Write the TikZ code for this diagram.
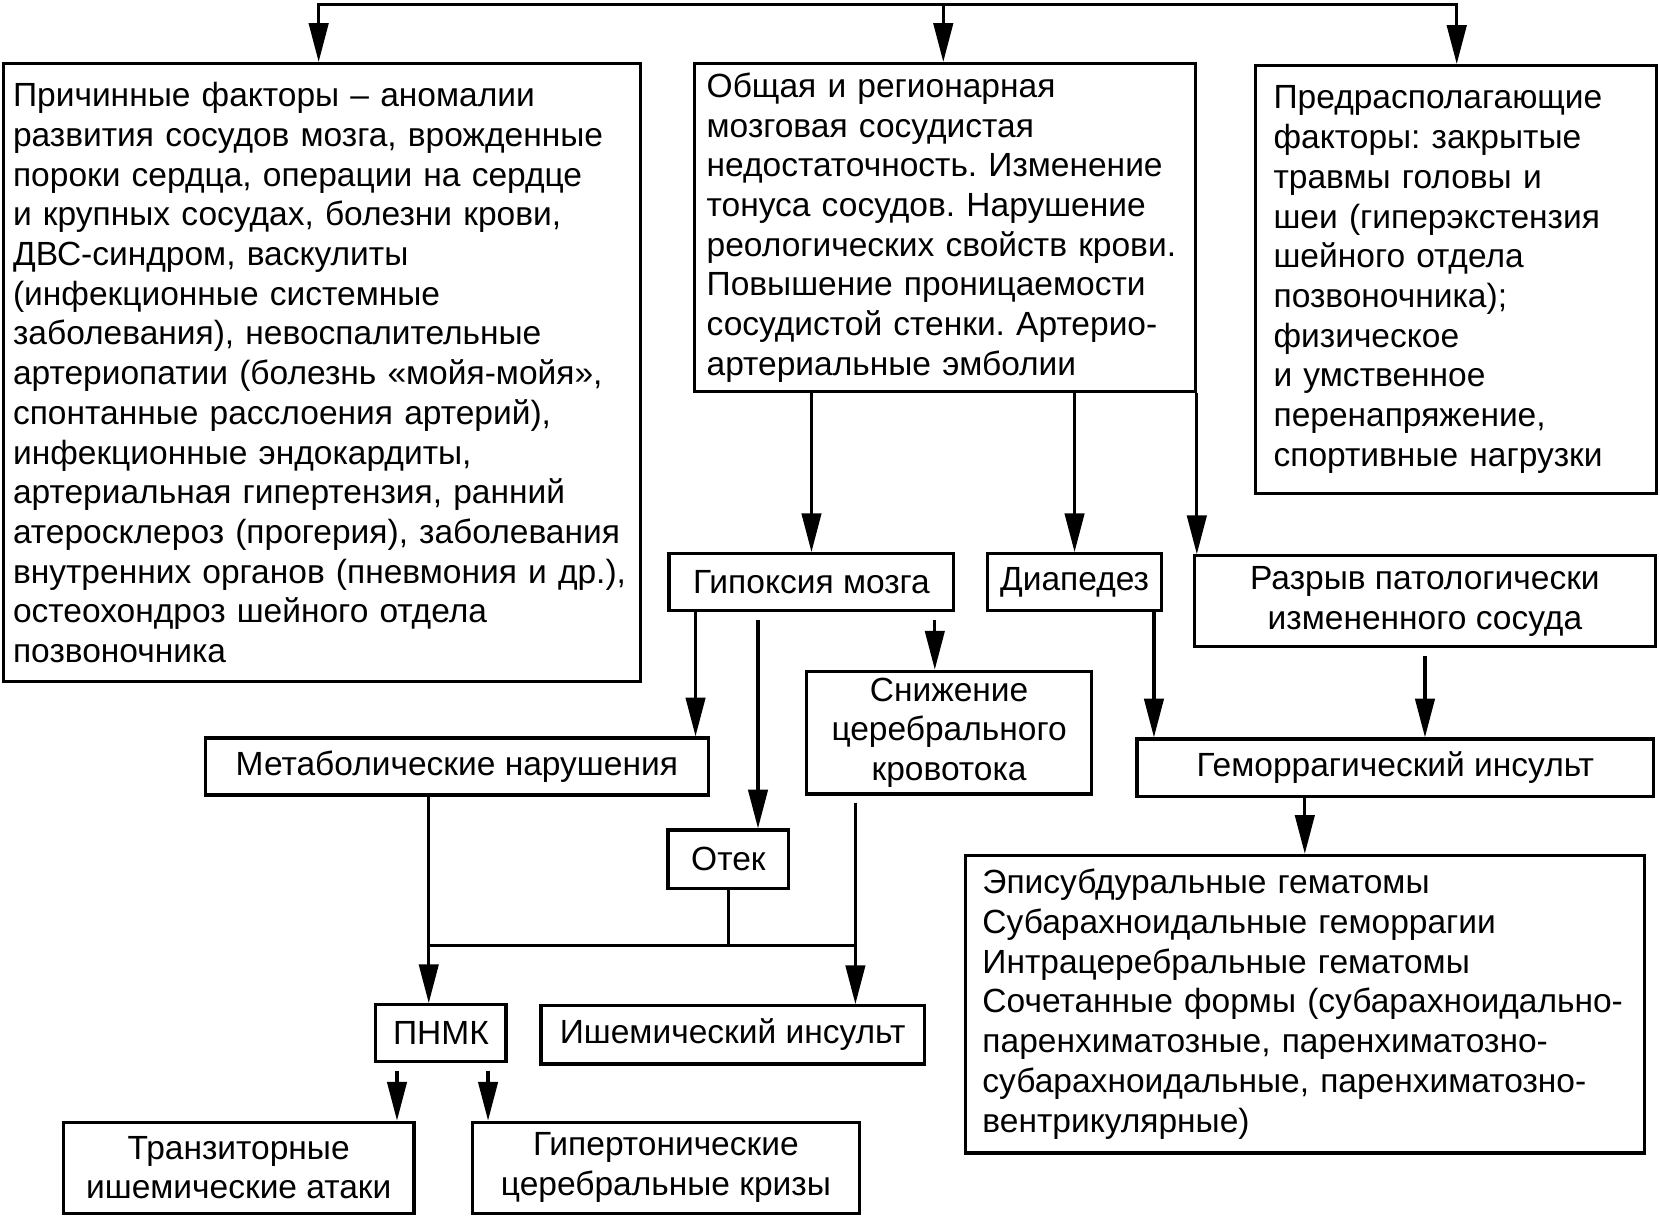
\documentclass[tikz,border=0pt]{standalone}
\usepackage{fontspec}
\setmainfont{Liberation Sans}
\usetikzlibrary{arrows.meta}
\frenchspacing

\begin{document}
\begin{tikzpicture}[x=0.3pt, y=-0.3pt, line width=0.9pt,
        font=\fontsize{9.5pt}{11.25pt}\selectfont,
        box/.style={draw, inner sep=0pt},
        arr/.style={-{Triangle[length=11pt,width=5.5pt]}}]
        \useasboundingbox (0,0) rectangle (1568,1149);

        \node(cause) at (304,352) [box, minimum width=180.6pt, minimum height=175.2pt, text width=175pt, align=left]{Причинные факторы – аномалии\\развития сосудов мозга, врожденные\\пороки сердца, операции на сердце\\и крупных сосудах, болезни крови,\\ДВС-синдром, васкулиты\\(инфекционные системные\\заболевания), невоспалительные\\артериопатии (болезнь «мойя-мойя»,\\спонтанные расслоения артерий),\\инфекционные эндокардиты,\\артериальная гипертензия, ранний\\атеросклероз (прогерия), заболевания\\внутренних органов (пневмония и др.),\\остеохондроз шейного отдела\\позвоночника};
        \node(general) at (892.5,215) [box, minimum width=141.9pt, minimum height=93pt, text width=135pt, align=left]{Общая и регионарная\\мозговая сосудистая\\недостаточность. Изменение\\тонуса сосудов. Нарушение\\реологических свойств крови.\\Повышение проницаемости\\сосудистой стенки. Артерио-\\артериальные эмболии};
        \node(predisp) at (1375.5,264) [box, minimum width=113.7pt, minimum height=121.2pt, text width=103.5pt, align=left]{Предрасполагающие\\факторы: закрытые\\травмы головы и\\шеи (гиперэкстензия\\шейного отдела\\позвоночника);\\физическое\\и умственное\\перенапряжение,\\спортивные нагрузки};

        \node(hypoxia) at (766.5,550) [box, minimum width=80.7pt, minimum height=16.2pt]{Гипоксия мозга};
        \node(diapedesis) at (1015,550) [box, minimum width=49.2pt, minimum height=16.2pt]{Диапедез};
        \node(rupture) at (1346,568) [box, minimum width=130.8pt, minimum height=25.8pt, align=center]{Разрыв патологически\\измененного сосуда};

        \node(flow) at (896.5,692) [box, minimum width=80.7pt, minimum height=34.8pt, align=center]{Снижение\\церебрального\\кровотока};
        \node(metabolic) at (431.5,724) [box, minimum width=142.5pt, minimum height=16.2pt]{Метаболические нарушения};
        \node(hemorrhagic) at (1318,725) [box, minimum width=146.4pt, minimum height=16.2pt]{Геморрагический инсульт};
        \node(edema) at (688,811.5) [box, minimum width=34.2pt, minimum height=16.5pt]{Отек};

        \node(forms) at (1232.5,948.5) [box, minimum width=192.3pt, minimum height=84.3pt, text width=182.7pt, align=left]{Эписубдуральные гематомы\\Субарахноидальные геморрагии\\Интрацеребральные гематомы\\Сочетанные формы (субарахноидально-\\паренхиматозные, паренхиматозно-\\субарахноидальные, паренхиматозно-\\вентрикулярные)};

        \node(pnmk) at (416.5,976) [box, minimum width=36.9pt, minimum height=16.2pt]{ПНМК};
        \node(ischemic) at (692,977.5) [box, minimum width=108.6pt, minimum height=16.5pt]{Ишемический инсульт};
        \node(transient) at (225.5,1103) [box, minimum width=99.3pt, minimum height=25.8pt, align=center]{Транзиторные\\ишемические атаки};
        \node(crisis) at (629,1103) [box, minimum width=109.8pt, minimum height=25.8pt, align=center]{Гипертонические\\церебральные кризы};

        \coordinate(topL) at (301,4);
        \coordinate(topM) at (891,4);
        \coordinate(topR) at (1376,4);
        \coordinate(busL) at (405,893);
        \coordinate(busR) at (808,893);

        \draw[arr] (topM) -- (topL) -- (cause.north -| topL);
        \draw[arr] (topM) -- (topR) -- (predisp.north -| topR);
        \draw[arr] (topM) -- (general.north -| topM);

        \draw[arr] (general.south -| hypoxia.north) -- (hypoxia.north);
        \draw[arr] (general.south -| diapedesis.north) -- (diapedesis.north);
        \draw[arr] (general.south east) -- (general.south east |- rupture.north);

        \draw[arr] (hypoxia.south -| 657,0) -- (metabolic.north -| 657,0);
        \draw[arr,shorten <=2pt] (hypoxia.south -| 716,0) -- (edema.north -| 716,0);
        \draw[arr,shorten <=2pt] (hypoxia.south -| 883,0) -- (flow.north -| 883,0);

        \draw[arr] (diapedesis.south -| 1090,0) -- (hemorrhagic.north -| 1090,0);
        \draw[arr,shorten <=2pt] (rupture.south) -- (hemorrhagic.north -| rupture.south);
        \draw[arr] (hemorrhagic.south -| forms.north) -- (forms.north);

        \draw (busL) -- (busR);
        \draw (edema.south) -- (edema.south |- busL);
        \draw[arr] (metabolic.south -| busL) -- (pnmk.north -| busL);
        \draw[arr,shorten <=2pt] (flow.south -| busR) -- (ischemic.north -| busR);

        \draw[arr,shorten <=2pt] (pnmk.south -| 375,0) -- (transient.north -| 375,0);
        \draw[arr,shorten <=2pt] (pnmk.south -| 461,0) -- (crisis.north -| 461,0);

    \end{tikzpicture}
\end{document}
